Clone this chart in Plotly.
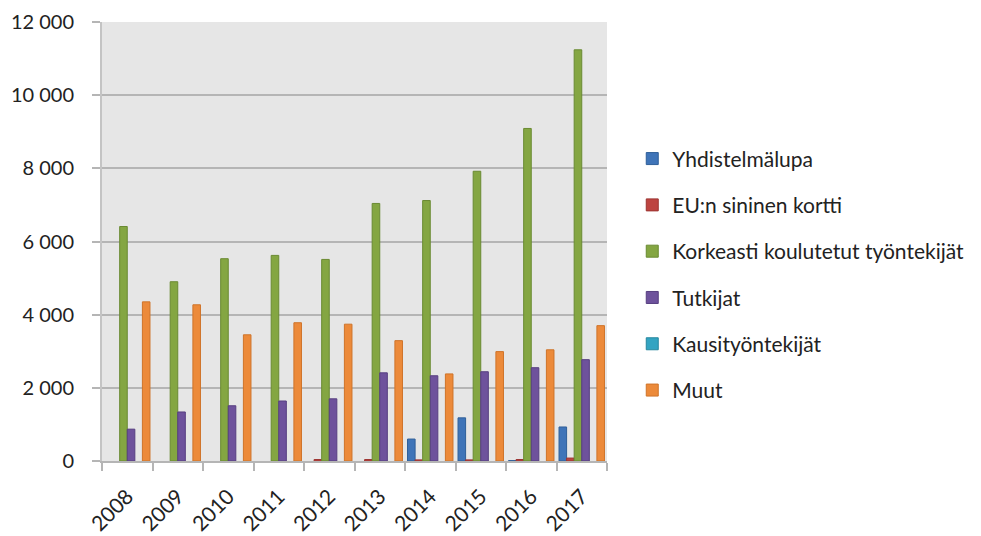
import plotly.graph_objects as go

# Residence permits granted per year, by permit type
years = ["2008", "2009", "2010", "2011", "2012", "2013", "2014", "2015", "2016", "2017"]

yhdistelmalupa = [None, None, None, None, None, None, 600, 1180, 10, 930]
eu_sininen_kortti = [None, None, None, None, 40, 40, 30, 30, 40, 80]
korkeasti_koulutetut = [6410, 4900, 5530, 5620, 5510, 7040, 7120, 7920, 9090, 11240]
tutkijat = [870, 1340, 1510, 1640, 1700, 2410, 2330, 2440, 2550, 2770]
kausityontekijat = [None, None, None, None, None, None, None, None, None, None]
muut = [4350, 4270, 3450, 3780, 3740, 3290, 2380, 2990, 3040, 3700]

series = [
    ("Yhdistelmälupa", yhdistelmalupa, "#3f74b8", "#2f5f99"),
    ("EU:n sininen kortti", eu_sininen_kortti, "#bd4440", "#9c3431"),
    ("Korkeasti koulutetut työntekijät", korkeasti_koulutetut, "#84a642", "#6a8a32"),
    ("Tutkijat", tutkijat, "#6e529c", "#573f80"),
    ("Kausityöntekijät", kausityontekijat, "#33a4c2", "#27879f"),
    ("Muut", muut, "#ec8a3a", "#cf742a"),
]

fig = go.Figure()
for i, (name, vals, fill, edge) in enumerate(series):
    fig.add_trace(go.Bar(
        name=name,
        x=years,
        y=vals,
        marker=dict(color=fill, line=dict(color=edge, width=1)),
        legendgroup=f"g{i}",
    ))

font_family = "Lato, 'Open Sans', sans-serif"

fig.update_layout(
    width=981,
    height=536,
    margin=dict(l=102, r=374, t=22, b=75),
    paper_bgcolor="white",
    plot_bgcolor="#e6e6e6",
    barmode="group",
    bargap=0.1,
    bargroupgap=0,
    separators=", ",
    font=dict(family=font_family, color="#222222"),
    showlegend=True,
    legend=dict(
        x=1.05, xanchor="left",
        y=0.425, yanchor="middle",
        font=dict(size=21, color="#222222", family=font_family),
        tracegroupgap=16,
        bgcolor="rgba(0,0,0,0)",
        itemwidth=30,
    ),
    xaxis=dict(
        type="category",
        automargin=False,
        tickangle=-45,
        tickfont=dict(size=21, family=font_family),
        ticks="outside",
        tickson="boundaries",
        ticklen=8,
        tickcolor="#b5b5b5",
        tickwidth=2,
        ticklabelstandoff=13,
        showline=True,
        linecolor="#b5b5b5",
        linewidth=2,
        showgrid=False,
    ),
    yaxis=dict(
        automargin=False,
        range=[0, 12000],
        dtick=2000,
        tickformat=",d",
        tickfont=dict(size=20, family=font_family),
        ticks="outside",
        ticklen=8,
        tickcolor="#b5b5b5",
        tickwidth=2,
        ticklabelstandoff=14,
        showline=True,
        linecolor="#c4c4c4",
        linewidth=2,
        showgrid=True,
        gridcolor="#b5b5b5",
        gridwidth=2,
        zeroline=False,
    ),
)

fig.write_html("out.html")
